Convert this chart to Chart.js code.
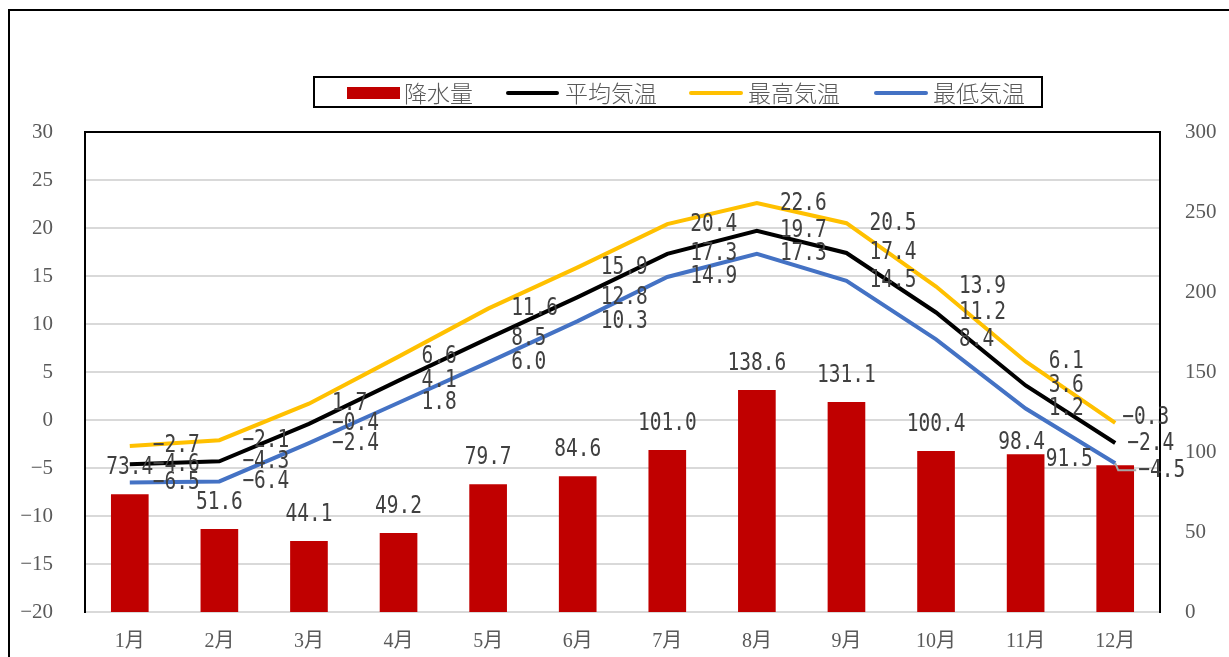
<!DOCTYPE html>
<html lang="ja">
<head>
<meta charset="UTF-8" />
<title>降水量と気温</title>
<script src="https://cdn.jsdelivr.net/npm/chart.js"></script>
<style>
  html, body {
    margin: 0;
    padding: 0;
    background: #fff;
    overflow: hidden;
  }
  #moldura {
    position: absolute;
    left: 8px;
    top: 9px;
    width: 1300px;
    height: 700px;
    border-left: 2px solid #000;
    border-top: 2px solid #000;
  }
  #grafico {
    position: absolute;
    left: 0;
    top: 0;
  }
  #legenda {
    position: absolute;
    left: 313px;
    top: 76px;
    width: 730px;
    height: 32px;
    box-sizing: border-box;
    border: 2px solid #000;
    background: #fff;
    font-family: 'Noto Sans CJK JP', sans-serif;
    font-weight: 300;
    font-size: 23px;
    color: #595959;
  }
  #legenda .cor { position: absolute; }
  #legenda .txt { position: absolute; top: 0; line-height: 28px; }
</style>
</head>
<body>
<div id="moldura"></div>
<canvas id="grafico" width="1229" height="657"></canvas>
<div id="legenda">
  <div class="cor" style="left:32px;top:9px;width:53px;height:12px;background:#c00000"></div>
  <div class="txt" style="left:89px">降水量</div>
  <div class="cor" style="left:191px;top:13px;width:53px;height:4px;background:#000;border-radius:2px"></div>
  <div class="txt" style="left:250px">平均気温</div>
  <div class="cor" style="left:374px;top:13px;width:54px;height:4px;background:#ffc000;border-radius:2px"></div>
  <div class="txt" style="left:433px">最高気温</div>
  <div class="cor" style="left:559px;top:13px;width:54px;height:4px;background:#4472c4;border-radius:2px"></div>
  <div class="txt" style="left:618px">最低気温</div>
</div>

<script>
// dados
const meses = ['1月', '2月', '3月', '4月', '5月', '6月', '7月', '8月', '9月', '10月', '11月', '12月'];
const chuva = [73.4, 51.6, 44.1, 49.2, 79.7, 84.6, 101.0, 138.6, 131.1, 100.4, 98.4, 91.5];
const tempMedia = [-4.6, -4.3, -0.4, 4.1, 8.5, 12.8, 17.3, 19.7, 17.4, 11.2, 3.6, -2.4];
const tempMax = [-2.7, -2.1, 1.7, 6.6, 11.6, 15.9, 20.4, 22.6, 20.5, 13.9, 6.1, -0.3];
const tempMin = [-6.5, -6.4, -2.4, 1.8, 6.0, 10.3, 14.9, 17.3, 14.5, 8.4, 1.2, -4.5];

// ajustes manuais de rótulos (dataset -> indice -> [dx, dy])
const ajusteRotulo = {
  0: { 10: [-4, 15], 11: [-46, 21] },
  2: { 11: [-16, -5] },
  1: { 11: [-11, 0] },
  3: { 11: [0, 7] }
};

function fmt(v) {
  const s = Math.abs(v).toFixed(1);
  return v < 0 ? '\u2212' + s : s;
}

const corTexto = '#595959';

const rotulosPlugin = {
  id: 'rotulos',
  beforeDatasetsDraw(chart) {
    const { ctx, chartArea } = chart;
    ctx.save();
    ctx.strokeStyle = '#000';
    ctx.lineWidth = 2;
    ctx.beginPath();
    ctx.moveTo(chartArea.left - 1, chartArea.top);
    ctx.lineTo(chartArea.right + 1, chartArea.top);
    ctx.stroke();
    ctx.restore();
  },
  afterDatasetsDraw(chart) {
    const ctx = chart.ctx;
    ctx.save();
    ctx.font = '25px "DejaVu Sans Mono", monospace';
    ctx.fillStyle = '#404040';
    ctx.textBaseline = 'middle';
    chart.data.datasets.forEach((ds, di) => {
      const meta = chart.getDatasetMeta(di);
      meta.data.forEach((el, i) => {
        const aj = (ajusteRotulo[di] && ajusteRotulo[di][i]) || [0, 0];
        let x, y, align;
        if (ds.type === 'bar') {
          x = el.x + aj[0];
          y = el.y - 27 + aj[1];
          align = 'center';
        } else {
          x = el.x + 23 + aj[0];
          y = el.y + aj[1];
          align = 'left';
        }
        // linha de chamada do rótulo deslocado
        if (di === 3 && i === 11) {
          ctx.strokeStyle = '#a6a6a6';
          ctx.lineWidth = 2;
          ctx.beginPath();
          ctx.moveTo(el.x, el.y);
          ctx.lineTo(el.x + 3, y);
          ctx.lineTo(x - 2, y);
          ctx.stroke();
        }
        ctx.save();
        ctx.translate(x, y);
        ctx.scale(0.78, 1);
        ctx.textAlign = align;
        ctx.fillText(fmt(ds.data[i]), 0, 0);
        ctx.restore();
      });
    });
    ctx.restore();
  }
};

const config = {
  data: {
    labels: meses,
    datasets: [
      {
        type: 'bar',
        label: '降水量',
        data: chuva,
        yAxisID: 'y2',
        backgroundColor: '#c00000',
        barThickness: 37,
        order: 5
      },
      {
        type: 'line',
        label: '平均気温',
        data: tempMedia,
        yAxisID: 'y',
        borderColor: '#000000',
        borderWidth: 4,
        pointRadius: 0,
        tension: 0,
        order: 2
      },
      {
        type: 'line',
        label: '最高気温',
        data: tempMax,
        yAxisID: 'y',
        borderColor: '#ffc000',
        borderWidth: 4,
        pointRadius: 0,
        tension: 0,
        order: 3
      },
      {
        type: 'line',
        label: '最低気温',
        data: tempMin,
        yAxisID: 'y',
        borderColor: '#4472c4',
        borderWidth: 4,
        pointRadius: 0,
        tension: 0,
        order: 1
      }
    ]
  },
  options: {
    responsive: false,
    animation: false,
    layout: { padding: { left: 0, right: 0, top: 132, bottom: 0 } },
    plugins: {
      legend: { display: false },
      tooltip: { enabled: false }
    },
    scales: {
      x: {
        offset: true,
        grid: { display: false, drawTicks: false },
        border: { display: true, color: '#d9d9d9', width: 2 },
        ticks: {
          color: corTexto,
          padding: 18,
          font: { family: "'Liberation Serif', 'Noto Sans CJK JP', serif", size: 20 }
        },
        afterFit: (s) => { s.height = 45; }
      },
      y: {
        position: 'left',
        min: -20,
        max: 30,
        grid: { color: '#d9d9d9', lineWidth: 2, drawTicks: false },
        border: { display: true, color: '#000', width: 2 },
        ticks: {
          stepSize: 5,
          color: corTexto,
          padding: 32,
          font: { family: "'Liberation Serif', serif", size: 21 },
          callback: (v) => (v < 0 ? '\u2212' + Math.abs(v) : String(v))
        },
        afterFit: (s) => { s.width = 85; }
      },
      y2: {
        position: 'right',
        min: 0,
        max: 300,
        grid: { display: false, drawTicks: false },
        border: { display: true, color: '#000', width: 2 },
        ticks: {
          stepSize: 50,
          color: corTexto,
          padding: 25,
          font: { family: "'Liberation Serif', serif", size: 21 }
        },
        afterFit: (s) => { s.width = 69; }
      }
    }
  },
  plugins: [rotulosPlugin]
};

const ctx_grafico = document.getElementById('grafico').getContext('2d');
const grafico = new Chart(ctx_grafico, config);
</script>
</body>
</html>
